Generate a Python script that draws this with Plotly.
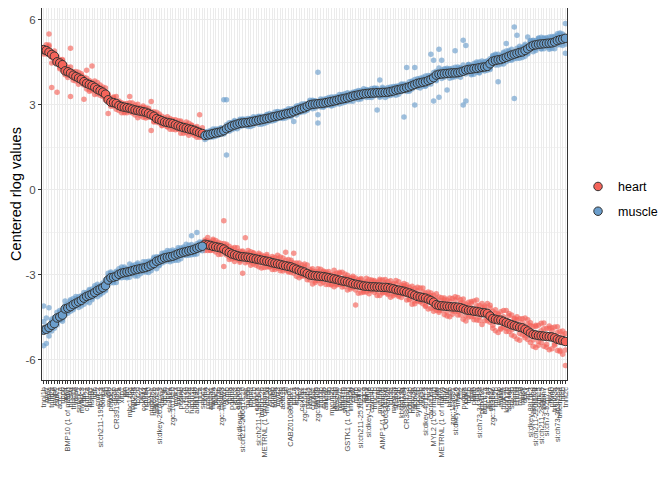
import plotly.graph_objects as go

genes = [
    "tnni1b", "myl7", "nppa", "tnnt2a", "myh6", "cmlc1", "actc1a", "nppb", "myl4", "BMP10 (1 of many)", "hhatla", "tnnc1a", "vmhc", "smyhc2", "mybpc3",
    "ttn.1", "ckmt2a", "ahsg1", "hspb7", "mb", "cmlc2", "si:ch211-195b11.3", "txlnba", "sln", "myl9b", "popdc2", "tcap", "CR391989.1", "fhl2a", "xirp1",
    "pln", "hrc", "mhc1zba", "rbm24a", "nkx2.5", "tbx20", "hey2", "cox6a2", "ndufa4", "sox10", "ptgdsb.1", "myoz2b", "ankrd1a", "si:dkey-261h17.1", "casq2",
    "ldb3b", "fbp2", "slc8a1a", "zgc:101810", "mylk3", "lrrc10", "postnb", "klf2a", "col1a1b", "ccn2a", "hapln1a", "tnni4b", "aldh1a2", "fhl1a", "smoc1",
    "ckma", "pvalb2", "atp2a1", "mylpfa", "tnnc2", "actn3b", "zgc:158463", "myhz2", "ckmb", "tpma", "pgam2", "eno3", "aldoab", "si:dkeyp-93a5.3", "si:ch211-266g18.10",
    "ak1", "gapdh", "pfkma", "ryr1b", "casq1a", "si:ch211-156j16.1", "mybpc2b", "METRNL (1 of many)", "myoz1a", "smpx", "txlnbb", "tnnt3a", "mylz3", "cav3b", "acta1a",
    "srl", "ampd1", "CABZ01080568.1", "jph1a", "stac3", "mb2", "cox7a1", "zgc:92041", "pvalb1", "myh2", "chrna1", "mylpfb", "zgc:86709", "tnnt3b", "sypl2b",
    "ankrd2", "trdn", "myom2a", "unc45b", "obscnb", "hspb11", "klhl41b", "smyd1b", "GSTK1 (1 of many)", "lmod2b", "cilp2", "myf6", "mstnb", "si:ch211-251b21.1", "sgcg",
    "fitm1", "si:dkey-15j16.6", "cavin4b", "tnnc1b", "nrap", "mybphb", "AIMP1 (1 of many)", "CU633479.5", "ckmt2b", "ldb3a", "myoz2a", "sh3bgr", "asb2b", "kbtbd13a", "tmod4",
    "CR388047.3", "pdlim3b", "myoz3a", "actn2b", "synpo2lb", "fhl1b", "xirp2a", "si:dkey-4p15.3", "ryr3", "cacna1sa", "MYL2 (1 of many)", "neb", "myh1", "METRNL (1 of many)", "ttn.2",
    "tnnt1", "hhatlb", "zgc:113691", "si:dkey-57k2.6", "mylk2", "cfl2", "pygma", "pgk1", "tpi1b", "gpia", "pkmb", "ldha", "si:ch73-343l4.8", "ppp1r3c", "atp1b1a",
    "slc2a4", "dusp27", "zgc:153686", "lmo7b", "myhb", "mymk", "fndc5a", "kcnj12b", "scn4aa", "stac3b", "chrnd", "chrng", "rapsn", "musk", "dok7",
    "lrp4", "si:dkey-88l16.3", "ampd3b", "si:ch211-220f12.4", "cdh15", "si:ch211-286b5.5", "pdlim7", "si:ch73-52p7.1", "nexn", "pfkmb", "trim63a", "si:ch73-363j12.3", "tmem38a", "hrcb", "tnnt2c",
]

heart_mean = [
    4.95, 4.92, 4.86, 4.78, 4.72, 4.52, 4.48, 4.42, 4.20, 4.17, 4.12, 4.05, 4.00, 3.95, 3.90,
    3.82, 3.76, 3.72, 3.68, 3.62, 3.55, 3.50, 3.45, 3.38, 3.18, 3.10, 3.08, 3.05, 2.98, 2.94,
    2.92, 2.90, 2.88, 2.85, 2.82, 2.80, 2.78, 2.76, 2.74, 2.70, 2.65, 2.60, 2.52, 2.48, 2.44,
    2.40, 2.38, 2.36, 2.34, 2.30, 2.26, 2.23, 2.20, 2.18, 2.15, 2.13, 2.10, 2.06, 2.02, 1.99,
    -1.92, -1.94, -1.96, -1.99, -2.01, -2.03, -2.05, -2.09, -2.16, -2.21, -2.26, -2.29, -2.32, -2.35, -2.36,
    -2.37, -2.38, -2.40, -2.42, -2.44, -2.46, -2.48, -2.50, -2.52, -2.54, -2.57, -2.59, -2.61, -2.63, -2.66,
    -2.68, -2.70, -2.72, -2.76, -2.80, -2.84, -2.87, -2.90, -2.95, -3.00, -3.02, -3.03, -3.04, -3.05, -3.06,
    -3.08, -3.10, -3.12, -3.14, -3.16, -3.19, -3.21, -3.23, -3.25, -3.28, -3.31, -3.33, -3.35, -3.37, -3.39,
    -3.40, -3.41, -3.42, -3.42, -3.43, -3.43, -3.44, -3.44, -3.45, -3.47, -3.49, -3.52, -3.54, -3.56, -3.58,
    -3.61, -3.64, -3.68, -3.72, -3.76, -3.78, -3.80, -3.82, -3.86, -3.90, -3.96, -4.05, -4.08, -4.09, -4.10,
    -4.11, -4.12, -4.13, -4.13, -4.14, -4.16, -4.19, -4.23, -4.25, -4.26, -4.28, -4.29, -4.31, -4.33, -4.34,
    -4.36, -4.45, -4.54, -4.57, -4.59, -4.60, -4.64, -4.68, -4.72, -4.76, -4.79, -4.82, -4.85, -4.87, -4.92,
    -4.98, -5.05, -5.10, -5.12, -5.14, -5.15, -5.16, -5.17, -5.18, -5.19, -5.22, -5.27, -5.30, -5.32, -5.35,
]

muscle_mean = [
    -4.95, -4.92, -4.86, -4.78, -4.72, -4.52, -4.48, -4.42, -4.20, -4.17, -4.12, -4.05, -4.00, -3.95, -3.90,
    -3.82, -3.76, -3.72, -3.68, -3.62, -3.55, -3.50, -3.45, -3.38, -3.18, -3.10, -3.08, -3.05, -2.98, -2.94,
    -2.92, -2.90, -2.88, -2.85, -2.82, -2.80, -2.78, -2.76, -2.74, -2.70, -2.65, -2.60, -2.52, -2.48, -2.44,
    -2.40, -2.38, -2.36, -2.34, -2.30, -2.26, -2.23, -2.20, -2.18, -2.15, -2.13, -2.10, -2.06, -2.02, -1.99,
    1.92, 1.94, 1.96, 1.99, 2.01, 2.03, 2.05, 2.09, 2.16, 2.21, 2.26, 2.29, 2.32, 2.35, 2.36,
    2.37, 2.38, 2.40, 2.42, 2.44, 2.46, 2.48, 2.50, 2.52, 2.54, 2.57, 2.59, 2.61, 2.63, 2.66,
    2.68, 2.70, 2.72, 2.76, 2.80, 2.84, 2.87, 2.90, 2.95, 3.00, 3.02, 3.03, 3.04, 3.05, 3.06,
    3.08, 3.10, 3.12, 3.14, 3.16, 3.19, 3.21, 3.23, 3.25, 3.28, 3.31, 3.33, 3.35, 3.37, 3.39,
    3.40, 3.41, 3.42, 3.42, 3.43, 3.43, 3.44, 3.44, 3.45, 3.47, 3.49, 3.52, 3.54, 3.56, 3.58,
    3.61, 3.64, 3.68, 3.72, 3.76, 3.78, 3.80, 3.82, 3.86, 3.90, 3.96, 4.05, 4.08, 4.09, 4.10,
    4.11, 4.12, 4.13, 4.13, 4.14, 4.16, 4.19, 4.23, 4.25, 4.26, 4.28, 4.29, 4.31, 4.33, 4.34,
    4.36, 4.45, 4.54, 4.57, 4.59, 4.60, 4.64, 4.68, 4.72, 4.76, 4.79, 4.82, 4.85, 4.87, 4.92,
    4.98, 5.05, 5.10, 5.12, 5.14, 5.15, 5.16, 5.17, 5.18, 5.19, 5.22, 5.27, 5.30, 5.32, 5.35,
]

# per-sample deviations from the group mean, in hundredths
heart_off1 = [
    8, -12, 64, -117, 10, -107, -15, 15, 12, -20, 88, -10, 18, -22, 14,
    -62, 46, -18, 69, -25, 12, 20, -15, 22, -48, 10, -12, 25, -18, 8,
    -20, 15, 42, -10, 18, -25, 12, 20, -15, 10, 47, -18, 22, -12, 16,
    -10, 20, -22, 14, -8, 18, -23, 12, -16, 20, -14, 10, 18, 63, -12,
    15, -20, 12, 25, -18, 10, -22, 100, 18, -25, 14, -12, 28, -15, 20,
    68, -16, 22, -20, 12, -25, 18, -10, 24, -18, 15, -22, 30, -14, 10,
    48, -20, 16, 52, -25, 12, -18, 28, -12, 20, -30, 14, -16, 25, -20,
    18, -24, 12, -28, 22, -15, 30, -18, 14, -22, 20, -73, 16, -26, 12,
    -20, 25, -14, 18, -30, 22, -16, 28, -20, 14, -25, 32, -18, 20, -12,
    26, -22, 15, -30, 20, -18, 34, -25, 12, -28, 24, -20, 30, -16, 22,
    -34, 18, -26, 36, -14, 28, -38, 20, -24, 32, -18, 40, -30, 16, -28,
    35, -22, 26, -40, 18, -32, 38, -20, 28, -36, 22, -44, 30, -24, 40,
    -30, 26, -42, 34, -20, 44, -36, 28, -46, 22, 38, -40, 30, -48, -85,
]
heart_off2 = [
    -15, 20, 25, -10, 18, 18, 12, -20, -14, 16, -82, 12, -16, 20, -12,
    16, -20, 14, -18, 22, -16, 10, 18, -20, 14, -15, 20, -10, 16, -22,
    12, -18, 20, -14, 10, 22, -16, 14, -20, 18, -55, 16, -12, 20, -18,
    14, -16, 10, -20, 18, -12, 16, -20, 22, -10, 14, -18, 12, -16, 20,
    -22, 14, -16, 20, 12, -25, 16, -61, -14, 22, -18, 26, -12, 18, -58,
    -20, 14, -26, 18, -12, 22, -28, 16, -20, 12, -24, 20, -16, 26, -20,
    -14, 24, -20, 18, 12, -26, 22, -14, 30, -18, 16, -24, 26, -12, 20,
    -26, 14, -20, 30, -16, 24, -12, 26, -28, 18, -14, 22, -30, 20, -18,
    28, -14, 24, -20, 16, -30, 26, -18, 22, -32, 18, -16, 30, -24, 20,
    -28, 20, -36, 24, -16, 32, -22, 18, -34, 26, -20, 38, -18, 28, -30,
    22, -36, 30, -16, 34, -26, 20, -40, 28, -22, 36, -30, 24, -42, 18,
    -26, 38, -34, 22, -44, 30, -20, 42, -28, 34, -38, 24, -46, 32, -22,
    40, -34, 28, -44, 36, -24, 46, -38, 30, -42, -26, 44, -36, 34, 28,
]
heart_off3 = [
    2, -6, 20, -30, -22, 8, -20, 18, 20, -12, 22, -18, 10, -8, 20,
    -12, 18, -24, 12, -10, 24, -16, 8, -14, 20, -8, 16, -20, 10, 14,
    -16, 8, -12, 22, -18, 12, 8, -20, 16, -14, 10, -20, 14, 12, -16,
    8, -14, 16, 10, -18, -10, 20, -8, 12, -22, 16, -12, -20, 10, -8,
    10, 26, -18, -14, 22, 18, -12, 20, 24, -16, 20, -24, 14, -20, 16,
    12, 24, -14, 20, -22, 16, 12, -24, 18, -16, 22, -14, 18, -22, 26,
    20, -16, 24, -18, 22, 26, -14, 18, -22, 12, 24, -18, 14, -26, 16,
    12, 22, -24, 16, -20, 28, -22, 14, 24, -16, 26, -20, 18, 24, -22,
    16, -26, 20, 22, -14, 28, -20, 16, -24, 26, -18, 20, -22, 14, 28,
    18, -24, 28, -20, 32, -14, 20, -30, 26, 16, -32, 22, -24, 18, 28,
    -20, 30, -14, 24, -28, 18, 34, -22, 16, 26, -30, 20, -18, 32, 24,
    -18, 28, -24, 34, 22, -28, 16, -32, 36, -18, 26, 34, -22, 18, -30,
    24, 36, -20, 30, -34, 18, 26, -28, 38, 32, -22, 24, -40, 20, -30,
]
muscle_off1 = [
    85, -50, 70, -20, 18, -25, 22, -15, 28, -12, 20, -18, 24, -10, 16,
    -22, 14, -26, 18, -12, 22, -20, 16, -14, 24, -18, 12, -22, 20, -16,
    14, -20, 26, -12, 18, -24, 10, 22, -16, 14, -20, 18, -26, 12, 20,
    -14, 24, -18, 16, -10, 22, -20, 14, 26, -12, 51, -18, 56, 12, -16,
    8, -10, 14, -12, 10, 12, -8, 109, 102, -14, 10, -12, 8, 14, -10,
    12, -14, 10, 16, -8, 12, -16, 10, 14, -12, 8, 16, -10, 12, -14,
    10, -12, 14, -35, 12, -10, 16, -14, 8, 12, -16, 10, 111, -12, 14,
    -10, 16, -12, 8, 14, -16, 12, -10, 18, -14, 10, 12, -16, 14, -8,
    12, -14, 16, -10, -61, 45, -12, 10, 16, -14, 12, -18, 10, 14, -101,
    71, -12, 16, 60, -14, 12, 18, -16, 10, 89, 62, -20, 88, 49, 14,
    -58, 16, -12, 78, 14, -18, 109, 87, 12, -16, 18, -14, 20, -12, 16,
    -14, 18, 20, -16, -77, 12, -20, 49, 16, -18, 96, 64, 14, -20, 18,
    42, 16, -22, 14, 20, -16, 18, -12, 22, -20, 16, 24, -18, 14, 52,
]
muscle_off2 = [
    -55, 40, -30, 22, -16, 20, -12, 18, -20, 14, -16, 22, -10, 18, -20,
    12, -18, 20, -14, 16, -22, 12, -18, 20, -10, 16, -20, 14, -12, 22,
    -16, 12, -20, 18, -14, 22, -18, 12, 20, -22, 14, -10, 16, -20, 12,
    18, -12, 20, -16, 14, -22, 12, 18, -14, 20, -16, 12, -20, 18, 14,
    -14, 12, -10, 16, -12, -8, 14, -12, -93, 16, -14, 12, -16, 10, 12,
    -10, 14, -16, 10, 12, -14, 8, -16, 12, 10, -14, -12, 16, -10, 12,
    -14, 16, -10, 12, -16, 14, -12, 10, -14, 16, 12, -14, -68, 16, -12,
    14, -12, 16, -14, 10, 18, -14, 16, -12, 10, -18, 14, 12, -16, 18,
    -14, 10, -16, 18, 12, -16, 14, -18, 10, 16, -12, 14, -16, 18, 12,
    -14, 18, -12, -72, 16, -18, 12, -14, 18, -16, -82, 14, -81, -16, 18,
    14, -18, 16, -14, 20, 12, -119, -109, 18, 14, -20, 16, -18, 22, -14,
    20, -16, 18, 22, -18, 14, 22, -16, 20, -14, -156, -18, 22, 16, -20,
    -16, 22, 18, -20, 16, 24, -18, 20, -16, 22, -24, 18, 20, -22, -53,
]
muscle_off3 = [
    30, 10, -12, 15, 22, -10, 16, -22, 12, -18, 24, -12, 16, -20, 10,
    20, -10, 16, -20, 24, 12, -16, 10, -18, 14, 20, -12, 18, -10, 12,
    20, -16, 10, 14, -22, 16, 12, -14, 10, 18, -12, 22, 10, -16, -14,
    12, 16, -10, 22, -18, 14, 18, -12, 10, -16, 20, -14, 16, -12, 10,
    12, 6, 10, -8, 14, -10, 12, 8, 14, -10, 12, 16, -8, -12, 14,
    8, -10, 12, -14, 10, 14, 12, -8, -14, 16, 10, -12, 14, 8, -10,
    12, 10, -14, 8, 16, -12, 10, 14, -12, -10, 14, 12, -39, 10, -14,
    12, 10, -16, 14, -12, 10, 16, -14, 10, 12, 14, -10, 16, -12, 10,
    14, 12, -10, 14, 16, -12, 18, 12, -14, 10, 16, 12, 14, -10, 16,
    12, -16, 14, 18, -10, 16, -14, 20, -12, 14, 18, -16, 22, 14, -12,
    18, 12, -16, 20, -12, 16, 22, -14, 18, -20, 12, 22, -16, 14, 18,
    16, -20, 14, 18, 20, -16, 18, 22, -14, 20, -16, 18, -20, 16, 22,
    -18, 20, 16, -14, 22, -18, 20, 16, -22, 18, 20, -16, 24, 18, -20,
]

y_ticks = [-6, -3, 0, 3, 6]
y_tick_labels = ["-6", "-3", "0", "3", "6"]

HEART = "#F5645A"
MUSCLE = "#6B9ECC"
FONT = "Liberation Sans, Arial, Helvetica, sans-serif"

pos = list(range(len(genes)))


def samples(means, offsets_list):
    xs, ys = [], []
    for offs in offsets_list:
        for p, m, o in zip(pos, means, offs):
            xs.append(p)
            ys.append(m + o / 100.0)
    return xs, ys


fig = go.Figure()

hx, hy = samples(heart_mean, [heart_off1, heart_off2, heart_off3])
mx, my = samples(muscle_mean, [muscle_off1, muscle_off2, muscle_off3])

fig.add_trace(go.Scatter(x=hx, y=hy, mode="markers", showlegend=False, hoverinfo="skip",
                         marker=dict(color=HEART, size=5.5, opacity=0.65, line=dict(width=0))))
fig.add_trace(go.Scatter(x=mx, y=my, mode="markers", showlegend=False, hoverinfo="skip",
                         marker=dict(color=MUSCLE, size=5.5, opacity=0.65, line=dict(width=0))))

fig.add_trace(go.Scatter(x=pos, y=heart_mean, mode="markers", name="heart", legendgroup="heart",
                         marker=dict(color=HEART, size=8.5, line=dict(color="#333333", width=1))))
fig.add_trace(go.Scatter(x=pos, y=muscle_mean, mode="markers", name="muscle", legendgroup="muscle",
                         marker=dict(color=MUSCLE, size=8.5, line=dict(color="#333333", width=1))))

n = len(genes)
fig.update_layout(
    width=672, height=480,
    margin=dict(l=34, r=113, t=0, b=108),
    paper_bgcolor="white", plot_bgcolor="white",
    font=dict(family=FONT, color="#000000"),
    legend=dict(x=1.021, y=0.487, xanchor="left", yanchor="middle",
                font=dict(size=12.5, color="#000000"), traceorder="grouped",
                tracegroupgap=5.5, bgcolor="rgba(0,0,0,0)"),
    xaxis=dict(
        range=[-0.6, n - 1 + 0.6],
        tickmode="array", tickvals=pos, ticktext=genes,
        tickangle=-90, tickfont=dict(size=7.5, color="#4D4D4D", family=FONT),
        ticks="outside", ticklen=3, tickwidth=0.8, tickcolor="#333333",
        showgrid=True, gridcolor="#EBEBEB", gridwidth=1,
        zeroline=False, showline=True, linecolor="#333333", linewidth=1, mirror=True,
        automargin=False,
    ),
    yaxis=dict(
        range=[-6.71, 6.42],
        tickmode="array", tickvals=y_ticks, ticktext=y_tick_labels,
        tickfont=dict(size=11.5, color="#4D4D4D", family=FONT),
        ticks="outside", ticklen=3, tickwidth=1, tickcolor="#333333",
        showgrid=True, gridcolor="#EBEBEB", gridwidth=1,
        minor=dict(tickvals=[-4.5, -1.5, 1.5, 4.5], showgrid=True, gridcolor="#F2F2F2", gridwidth=0.6, ticks=""),
        zeroline=False, showline=True, linecolor="#333333", linewidth=1, mirror=True,
        title=dict(text="Centered rlog values", font=dict(size=14.5, color="#000000", family=FONT), standoff=2),
        automargin=False,
    ),
)

fig.write_html("out.html")
